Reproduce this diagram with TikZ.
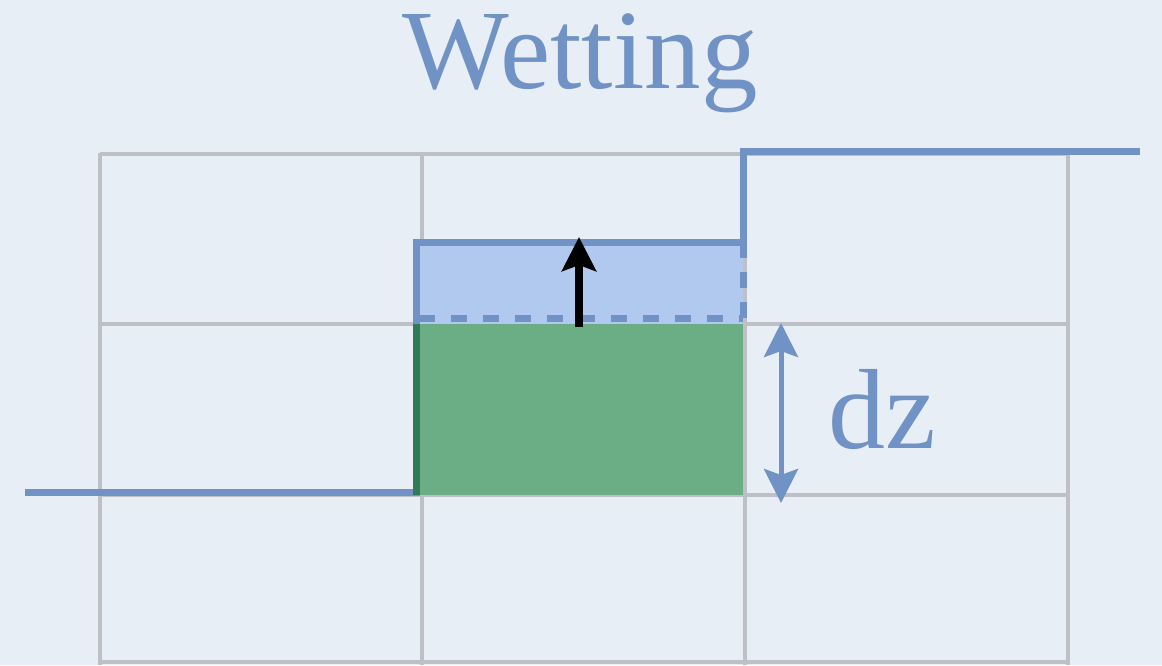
\documentclass[tikz,border=0pt]{standalone}
\usepackage{fontspec}
\setmainfont{Liberation Serif}
\usetikzlibrary{arrows.meta}
\definecolor{paper}{HTML}{E8EEF5}
\definecolor{water}{HTML}{7092C4}
\definecolor{waterfill}{HTML}{B1C9EF}
\definecolor{soil}{HTML}{6BAE85}
\definecolor{soildark}{HTML}{327B58}
\definecolor{gridgray}{HTML}{BEC0C5}

\begin{document}
\begin{tikzpicture}[x=1pt,y=-1pt,>=Stealth]
    % Paper background and frame.
    \fill[paper] (0,0) rectangle (1162,665);
    \useasboundingbox (0,0) rectangle (1162,665);

    % Cell grid.
    \foreach \xx in {100,422,745,1068}{
        \draw[gridgray,line width=4pt] (\xx,153) -- (\xx,665);
    }
    \foreach \yy in {154,324,495,662}{
        \draw[gridgray,line width=4pt] (100,\yy) -- (1068,\yy);
    }

    % Newly wetted layer.
    \fill[waterfill] (416,242) rectangle (743,324);
    \draw[water,line width=7pt,dash pattern=on 16pt off 16pt]
        (419,318) -- (743,318);
    \draw[water,line width=7pt,dash pattern=on 16pt off 14pt]
        (743,318) -- (743,246);

    % Water table profile.
    \draw[water,line width=7pt] (25,492) -- (416,492)
        -- (416,242) -- (743,242)
        -- (743,151) -- (1140,151);

    % Saturated cell.
    \fill[soil] (416,324) rectangle (743,495);
    \draw[soildark,line width=7pt] (416,324) -- (416,495);

    % Rising front and layer thickness.
    \coordinate (riseS) at (579,327);
    \coordinate (riseE) at (579,237);
    \draw[-{Stealth[length=34pt,width=34pt,inset=6pt]},line width=8pt]
        (riseS) -- (riseE);
    \coordinate (dzT) at (781,323);
    \coordinate (dzB) at (781,503);
    \draw[water,line width=5pt,
        {Stealth[length=34pt,width=34pt,inset=6pt]}-{Stealth[length=34pt,width=34pt,inset=6pt]}]
        (dzT) -- (dzB);

    % Labels.
    \node[water,anchor=base,inner sep=0,font=\fontsize{113}{113}\selectfont]
        (title) at (580,88) {Wetting};
    \node[water,anchor=base west,inner sep=0,font=\fontsize{114}{114}\selectfont]
        (dzlabel) at (828,448) {dz};
\end{tikzpicture}
\end{document}
